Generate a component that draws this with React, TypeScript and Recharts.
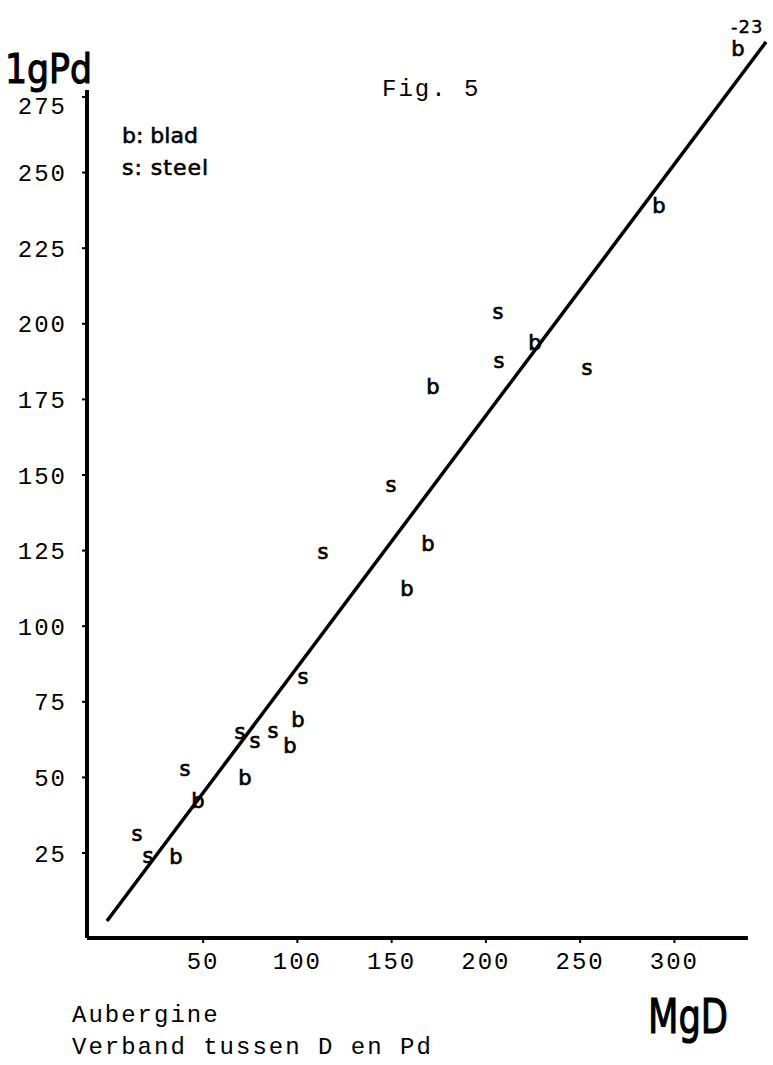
import React from 'react';
import { ScatterChart, Scatter, XAxis, YAxis, ReferenceLine } from 'recharts';

// values (MgD vs 1gPd)
const steelX = [14.9, 20.7, 40.4, 69.5, 77.5, 87.1, 103.0, 113.6, 149.6, 206.4, 206.9, 253.6];
const steelY = [30.7, 23.7, 52.2, 64.7, 61.7, 65.0, 82.9, 124.2, 146.4, 203.6, 187.1, 185.1];

const bladX = [35.6, 47.3, 72.2, 96.0, 100.3, 158.1, 169.2, 171.9, 226.0, 291.8, 333.7];
const bladY = [24.0, 42.5, 50.1, 60.7, 69.3, 112.6, 127.5, 179.4, 194.1, 239.3, 291.2];

const fitX = [-1.0, 348.6];
const fitY = [2.5, 293.2];

const xTicks = [50, 100, 150, 200, 250, 300];
const yTicks = [25, 50, 75, 100, 125, 150, 175, 200, 225, 250, 275];

const xDomain = [-11.6, 352.3];
const yDomain = [-3.1, 302.1];
const xAxisEnd = 339;
const yAxisTop = 277.3;

const steel = steelX.map((x, i) => ({ x, y: steelY[i] }));
const blad = bladX.map((x, i) => ({ x, y: bladY[i] }));

const TYPE = "'Courier New', 'Liberation Mono', monospace";
const HAND = "'DejaVu Sans', sans-serif";

const Letter = (ch: string, dy: number) => (props: any) => {
  if (props.cx == null) return null;
  return (
    <text
      x={props.cx}
      y={props.cy + dy}
      textAnchor="middle"
      fontFamily={HAND}
      fontSize={21}
      fill="#000"
      stroke="#000"
      strokeWidth={0.7}
    >
      {ch}
    </text>
  );
};

// the top label sits a little lower than its tick in the scan
const YTick = (props: any) => {
  const { x, y, payload } = props;
  const shift = payload.value === 275 ? 9 : 0;
  return (
    <text
      x={x}
      y={y + shift}
      dy="0.355em"
      textAnchor="end"
      fontFamily={TYPE}
      fontSize={24}
      letterSpacing={2}
      fill="#000"
    >
      {payload.value}
    </text>
  );
};

const App = () => {
  return (
    <div style={{ position: 'absolute', left: 0, top: 0, background: '#fff' }}>
      <ScatterChart width={773} height={1065} margin={{ top: 15, right: 0, bottom: 67, left: 27 }}>
        <XAxis
          type="number"
          dataKey="x"
          domain={xDomain}
          allowDataOverflow
          ticks={xTicks}
          axisLine={false}
          tickLine={{ stroke: '#000', strokeWidth: 2 }}
          tickSize={5}
          tickMargin={9}
          height={60}
          tick={{ fill: '#000', fontFamily: TYPE, fontSize: 24, letterSpacing: 2 }}
        />
        <YAxis
          type="number"
          dataKey="y"
          domain={yDomain}
          allowDataOverflow
          ticks={yTicks}
          axisLine={false}
          tickLine={{ stroke: '#000', strokeWidth: 2 }}
          tickSize={5}
          tickMargin={15}
          width={60}
          tick={<YTick />}
        />
        <ReferenceLine
          segment={[{ x: xDomain[0], y: yDomain[0] }, { x: xDomain[0], y: yAxisTop }]}
          stroke="#000"
          strokeWidth={4}
          ifOverflow="visible"
        />
        <ReferenceLine
          segment={[{ x: xDomain[0], y: yDomain[0] }, { x: xAxisEnd, y: yDomain[0] }]}
          stroke="#000"
          strokeWidth={4}
          ifOverflow="visible"
        />
        <ReferenceLine
          segment={[{ x: fitX[0], y: fitY[0] }, { x: fitX[1], y: fitY[1] }]}
          stroke="#000"
          strokeWidth={3.5}
          ifOverflow="visible"
        />
        <Scatter data={steel} shape={Letter('s', 5.7)} isAnimationActive={false} />
        <Scatter data={blad} shape={Letter('b', 8)} isAnimationActive={false} />

        <text x={5} y={83} fontFamily={HAND} fontSize={41} textLength={87} lengthAdjust="spacingAndGlyphs" fill="#000" stroke="#000" strokeWidth={1.2}>
          1gPd
        </text>
        <text x={648} y={1033} fontFamily={HAND} fontSize={48} textLength={80} lengthAdjust="spacingAndGlyphs" fill="#000" stroke="#000" strokeWidth={1.2}>
          MgD
        </text>
        <text x={122} y={143} fontFamily={HAND} fontSize={22} fill="#000" stroke="#000" strokeWidth={0.6}>
          b: blad
        </text>
        <text x={122} y={175} fontFamily={HAND} fontSize={22} letterSpacing={1} fill="#000" stroke="#000" strokeWidth={0.6}>
          s: steel
        </text>
        <text x={731} y={33} fontFamily={HAND} fontSize={18} letterSpacing={1} fill="#000" stroke="#000" strokeWidth={0.4}>
          -23
        </text>
        <text x={382} y={96} fontFamily={TYPE} fontSize={24} letterSpacing={2} fill="#000">
          Fig. 5
        </text>
        <text x={72} y={1022} fontFamily={TYPE} fontSize={24} letterSpacing={2} fill="#000">
          Aubergine
        </text>
        <text x={72} y={1054} fontFamily={TYPE} fontSize={24} letterSpacing={2} fill="#000">
          Verband tussen D en Pd
        </text>
      </ScatterChart>
    </div>
  );
};

export default App;
